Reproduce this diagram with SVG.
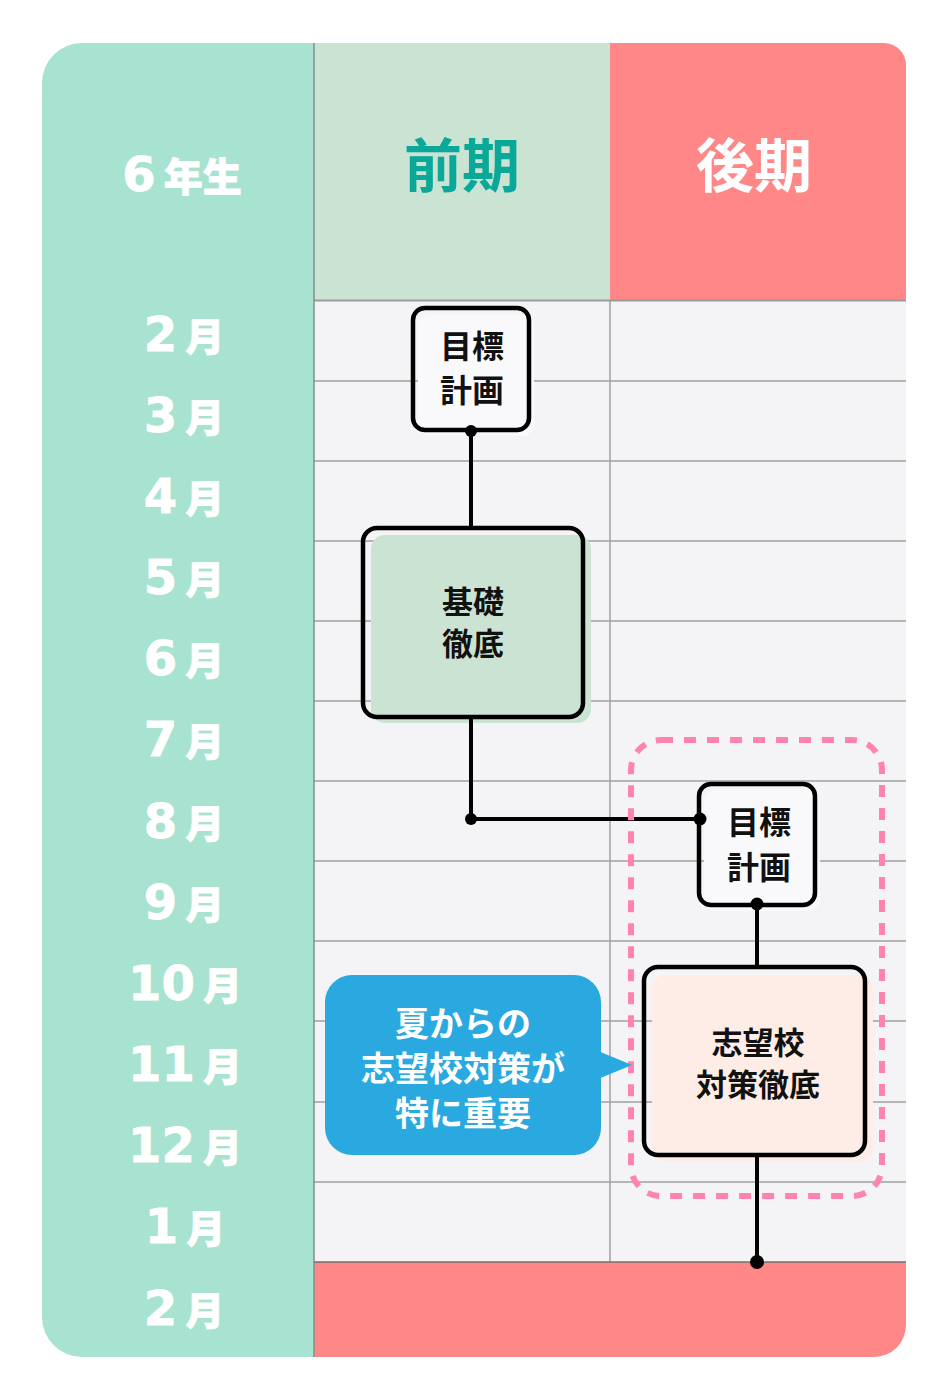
<svg xmlns="http://www.w3.org/2000/svg" width="948" height="1400" viewBox="0 0 948 1400">
  <defs>
    <clipPath id="outer">
      <path d="M 82 43 H 884 A 22 22 0 0 1 906 65 V 1325 A 32 32 0 0 1 874 1357 H 82 A 40 40 0 0 1 42 1317 V 83 A 40 40 0 0 1 82 43 Z"/>
    </clipPath>
    <style>
      .grid { stroke: #a0a0a0; stroke-width: 1.5; fill: none; }
      .num { font-family: "DejaVu Sans", "Liberation Sans", sans-serif; font-weight: 700; font-size: 48px; }
      .tsuki { font-family: "Noto Sans CJK JP", sans-serif; font-weight: 900; font-size: 39px; }
      .month { fill: #ffffff; stroke: #ffffff; stroke-width: 0.8; text-anchor: middle; }
      .head { font-family: "Noto Sans CJK JP", sans-serif; font-weight: 700; font-size: 58px; text-anchor: middle; }
      .label { font-family: "Noto Sans CJK JP", sans-serif; font-weight: 700; font-size: 32px; fill: #111111; text-anchor: middle; }
      .label-tight { font-size: 31px; }
      .callout-text { font-family: "Noto Sans CJK JP", sans-serif; font-weight: 700; font-size: 34px; fill: #ffffff; text-anchor: middle; }
      .box { fill: none; stroke: #000000; stroke-width: 4.5; }
      .wire { stroke: #000000; stroke-width: 4; fill: none; }
      .dot { fill: #000000; }
    </style>
  </defs>

  <rect width="948" height="1400" fill="#ffffff"/>

  <g id="table" clip-path="url(#outer)">
    <rect x="42" y="43" width="272" height="1314" fill="#a8e2d0"/>
    <rect x="314" y="43" width="296" height="258" fill="#cbe3d3"/>
    <rect x="610" y="43" width="296" height="258" fill="#ff8787"/>
    <rect x="314" y="301" width="592" height="961" fill="#f4f4f6"/>
    <rect x="314" y="1262" width="592" height="95" fill="#ff8787"/>
    <g class="grid">
      <line x1="314" y1="381" x2="906" y2="381"/>
      <line x1="314" y1="461" x2="906" y2="461"/>
      <line x1="314" y1="541" x2="906" y2="541"/>
      <line x1="314" y1="621" x2="906" y2="621"/>
      <line x1="314" y1="701" x2="906" y2="701"/>
      <line x1="314" y1="781" x2="906" y2="781"/>
      <line x1="314" y1="861" x2="906" y2="861"/>
      <line x1="314" y1="941" x2="906" y2="941"/>
      <line x1="314" y1="1021" x2="906" y2="1021"/>
      <line x1="314" y1="1102" x2="906" y2="1102"/>
      <line x1="314" y1="1182" x2="906" y2="1182"/>
      <line x1="610" y1="301" x2="610" y2="1262"/>
    </g>
    <line x1="314" y1="300.5" x2="906" y2="300.5" stroke="#9a9a9a" stroke-width="2"/>
    <line x1="314" y1="1262" x2="906" y2="1262" stroke="#707070" stroke-width="1.5"/>
    <line x1="314" y1="43" x2="314" y2="1357" stroke="#7f8f88" stroke-width="1.5"/>
  </g>

  <g id="headers">
    <text x="182" y="191" class="month"><tspan class="num">6</tspan><tspan class="tsuki" dx="8" font-size="41">年生</tspan></text>
    <text x="462" y="187" class="head" fill="#0aa898">前期</text>
    <text x="754" y="187" class="head" fill="#ffffff">後期</text>
  </g>

  <g id="months">
    <text x="184" y="351" class="month"><tspan class="num">2</tspan><tspan class="tsuki" dx="8">月</tspan></text>
    <text x="184" y="432" class="month"><tspan class="num">3</tspan><tspan class="tsuki" dx="8">月</tspan></text>
    <text x="184" y="513" class="month"><tspan class="num">4</tspan><tspan class="tsuki" dx="8">月</tspan></text>
    <text x="184" y="594" class="month"><tspan class="num">5</tspan><tspan class="tsuki" dx="8">月</tspan></text>
    <text x="184" y="675" class="month"><tspan class="num">6</tspan><tspan class="tsuki" dx="8">月</tspan></text>
    <text x="184" y="756" class="month"><tspan class="num">7</tspan><tspan class="tsuki" dx="8">月</tspan></text>
    <text x="184" y="838" class="month"><tspan class="num">8</tspan><tspan class="tsuki" dx="8">月</tspan></text>
    <text x="184" y="919" class="month"><tspan class="num">9</tspan><tspan class="tsuki" dx="8">月</tspan></text>
    <text x="185" y="1000" class="month"><tspan class="num">10</tspan><tspan class="tsuki" dx="8">月</tspan></text>
    <text x="185" y="1081" class="month"><tspan class="num">11</tspan><tspan class="tsuki" dx="8">月</tspan></text>
    <text x="185" y="1162" class="month"><tspan class="num">12</tspan><tspan class="tsuki" dx="8">月</tspan></text>
    <text x="185" y="1243" class="month"><tspan class="num">1</tspan><tspan class="tsuki" dx="8">月</tspan></text>
    <text x="184" y="1325" class="month"><tspan class="num">2</tspan><tspan class="tsuki" dx="8">月</tspan></text>
  </g>

  <g id="node-plan1">
    <rect x="418" y="315" width="116" height="121" rx="12" fill="#f9f9fb"/>
    <rect x="413" y="308" width="116" height="122" rx="12" class="box"/>
    <text x="472" y="358" class="label">目標</text>
    <text x="472" y="402" class="label">計画</text>
  </g>

  <g id="node-basics">
    <rect x="371" y="535" width="220" height="188" rx="14" fill="#cbe3d3"/>
    <rect x="363" y="528" width="220" height="189" rx="14" class="box"/>
    <text x="473" y="613" class="label label-tight">基礎</text>
    <text x="473" y="655" class="label label-tight">徹底</text>
  </g>

  <g id="node-plan2">
    <rect x="704" y="790" width="116" height="121" rx="12" fill="#f9f9fb"/>
    <rect x="699" y="784" width="116" height="121" rx="12" class="box"/>
    <text x="759" y="834" class="label">目標</text>
    <text x="759" y="879" class="label">計画</text>
  </g>

  <g id="node-exam">
    <rect x="652" y="975" width="221" height="187" rx="14" fill="#feede6"/>
    <rect x="644" y="967" width="221" height="188" rx="14" class="box"/>
    <text x="758" y="1054" class="label label-tight">志望校</text>
    <text x="758" y="1096" class="label label-tight">対策徹底</text>
  </g>

  <g id="connectors">
    <line class="wire" x1="471" y1="431" x2="471" y2="527"/>
    <circle class="dot" cx="471" cy="431" r="6"/>
    <polyline class="wire" points="471,717 471,819 700,819"/>
    <circle class="dot" cx="471" cy="819" r="6"/>
    <circle class="dot" cx="700" cy="819" r="6.5"/>
    <line class="wire" x1="757" y1="904" x2="757" y2="967"/>
    <circle class="dot" cx="757" cy="904" r="6.5"/>
    <line class="wire" x1="757" y1="1155" x2="757" y2="1262"/>
    <circle class="dot" cx="757" cy="1262" r="7"/>
  </g>

  <g id="focus-frame">
    <rect x="631" y="740" width="251" height="456" rx="30" fill="none" stroke="#ff82b0" stroke-width="6" stroke-dasharray="12 11"/>
  </g>

  <g id="callout">
    <rect x="325" y="975" width="276" height="180" rx="27" fill="#2aa9e0"/>
    <polygon points="598,1051 632,1065 598,1079" fill="#2aa9e0"/>
    <text x="463" y="1036" class="callout-text">夏からの</text>
    <text x="463" y="1081" class="callout-text">志望校対策が</text>
    <text x="463" y="1126" class="callout-text">特に重要</text>
  </g>
</svg>
